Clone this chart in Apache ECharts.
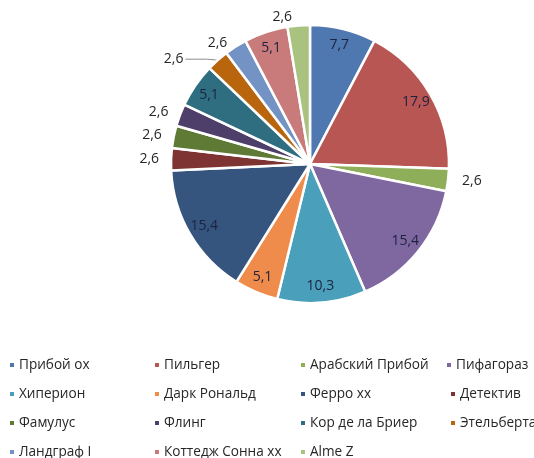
<!DOCTYPE html>
<html>
<head>
<meta charset="utf-8">
<script src="https://cdn.jsdelivr.net/npm/echarts@6/dist/echarts.min.js"></script>
<style>
html,body{margin:0;padding:0;background:#fff;}
#chart{width:534px;height:458px;}
</style>
</head>
<body>
<div id="chart"></div>
<script>
const categories = ['Прибой ох','Пильгер','Арабский Прибой','Пифагораз','Хиперион','Дарк Рональд','Ферро хх','Детектив','Фамулус','Флинг','Кор де ла Бриер','Этельберта','Ландграф I','Коттедж Сонна хх','Alme Z'];
const values = [7.7,17.9,2.6,15.4,10.3,5.1,15.4,2.6,2.6,2.6,5.1,2.6,2.6,5.1,2.6];
const colors = ['#4f78b0','#b85653','#8fae5a','#7f67a0','#4a9fba','#ef8c4c','#35557f','#7e3432','#5f7a35','#4e3f6a','#2e6e80','#b8650e','#7393c4','#c97a7a','#a9c280'];
const legendRows = [
  ['Прибой ох','Пильгер','Арабский Прибой','Пифагораз'],
  ['Хиперион','Дарк Рональд','Ферро хх','Детектив'],
  ['Фамулус','Флинг','Кор де ла Бриер','Этельберта'],
  ['Ландграф I','Коттедж Сонна хх','Alme Z']
];

const fmt = v => v.toFixed(1).replace('.', ',');
const CX = 310, CY = 164, R = 139;
const FONT = '"Open Sans", sans-serif';
const LEG_FS = 13.6, LEG_LH = 14, ROW = 29, ROW1 = 365;
const colLefts = [8, 153, 299, 445];
const col4Shift = 4;

const chart = echarts.init(document.getElementById('chart'), null, {renderer:'canvas'});

const baseData = categories.map((name, i) => {
  const inside = values[i] > 3;
  const item = {
    name, value: values[i],
    itemStyle: {color: colors[i]},
    label: {show: !inside},
    labelLine: {show: false, length: 8, length2: 4}
  };
  if (name === 'Этельберта') {
    item.labelLine = {show: true, length: 10, length2: 22, lineStyle: {color: '#8c8c8c', width: 1}};
  }
  if (name === 'Ландграф I') {
    item.labelLine = {show: false, length: 4, length2: 1};
  }
  return item;
});

const labelData = categories.map((name, i) => ({
  name, value: values[i],
  itemStyle: {color: 'rgba(0,0,0,0)', borderWidth: 0},
  label: {show: values[i] > 3}
}));

const legends = [];
legendRows.forEach((row, r) => {
  row.forEach((name, c) => {
    legends.push({
      data: [name],
      orient: 'horizontal',
      left: colLefts[c] + (c === 3 && r > 0 ? col4Shift : 0),
      top: ROW1 + r * ROW - LEG_LH / 2,
      itemWidth: 6,
      itemHeight: 6,
      icon: 'rect',
      padding: 0,
      selectedMode: false,
      textStyle: {fontFamily: FONT, fontSize: LEG_FS, color: '#262626', lineHeight: LEG_LH, padding: [0,0,0,-1]}
    });
  });
});

chart.setOption({
  animation: false,
  backgroundColor: '#fff',
  color: colors,
  legend: legends,
  series: [
    {
      type: 'pie',
      name: 'main',
      center: [CX, CY],
      radius: [0, R],
      startAngle: 90,
      clockwise: true,
      avoidLabelOverlap: true,
      emphasis: {disabled: true},
      itemStyle: {borderColor: '#fff', borderWidth: 2.5},
      label: {
        position: 'outside',
        formatter: p => fmt(p.value),
        fontFamily: FONT, fontSize: 14, color: '#262626',
        distanceToLabelLine: 2
      },
      data: baseData
    },
    {
      type: 'pie',
      name: 'labels',
      center: [CX, CY],
      radius: [R * 0.72, R],
      startAngle: 90,
      clockwise: true,
      silent: true,
      emphasis: {disabled: true},
      label: {
        position: 'inside',
        formatter: p => fmt(p.value),
        fontFamily: FONT, fontSize: 14, color: '#1c2240'
      },
      labelLine: {show: false},
      data: labelData
    }
  ]
});
</script>
</body>
</html>
